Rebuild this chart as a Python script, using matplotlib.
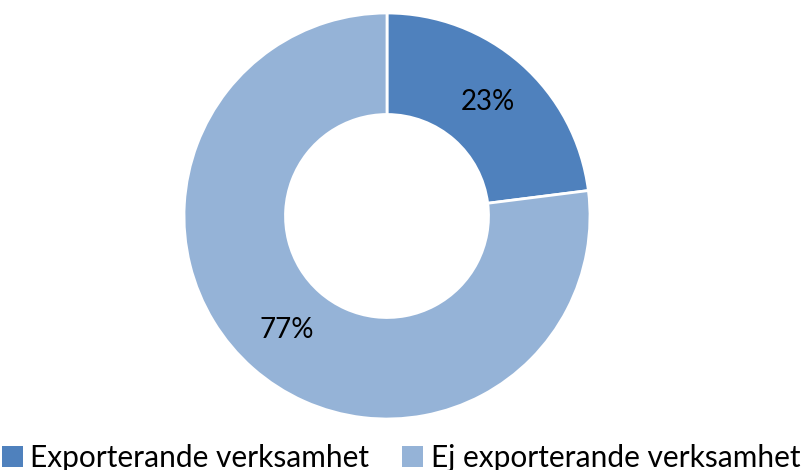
import matplotlib
matplotlib.use("Agg")
import matplotlib.pyplot as plt
from matplotlib.patches import Patch

labels = ["Exporterande verksamhet", "Ej exporterande verksamhet"]
values = [23, 77]
colors = ["#4F81BD", "#95B3D7"]

plt.rcParams['font.family'] = ['Lato', 'DejaVu Sans']

fig = plt.figure(figsize=(8.02, 4.70), dpi=100)
ax = fig.add_axes([184 / 802, 51 / 470, 406 / 802, 406 / 470])

wedges, texts, autotexts = ax.pie(
    values, colors=colors, startangle=90, counterclock=False,
    autopct="%d%%", pctdistance=0.75, radius=1.0,
    wedgeprops=dict(width=0.5, edgecolor="white", linewidth=2),
    textprops=dict(fontsize=20, color="black"))
ax.set_xlim(-1, 1)
ax.set_ylim(-1, 1)
ax.set_aspect("equal")

handles = [Patch(facecolor=c, edgecolor="none") for c in colors]
fig.legend(handles, labels, loc="lower center", ncol=2, frameon=False,
           fontsize=21.5, bbox_to_anchor=(0.5, -0.035), handlelength=0.7,
           handleheight=0.7, handletextpad=0.25, columnspacing=1.1,
           borderpad=0.3, borderaxespad=0.2)

fig.savefig("out.png", dpi=100)
